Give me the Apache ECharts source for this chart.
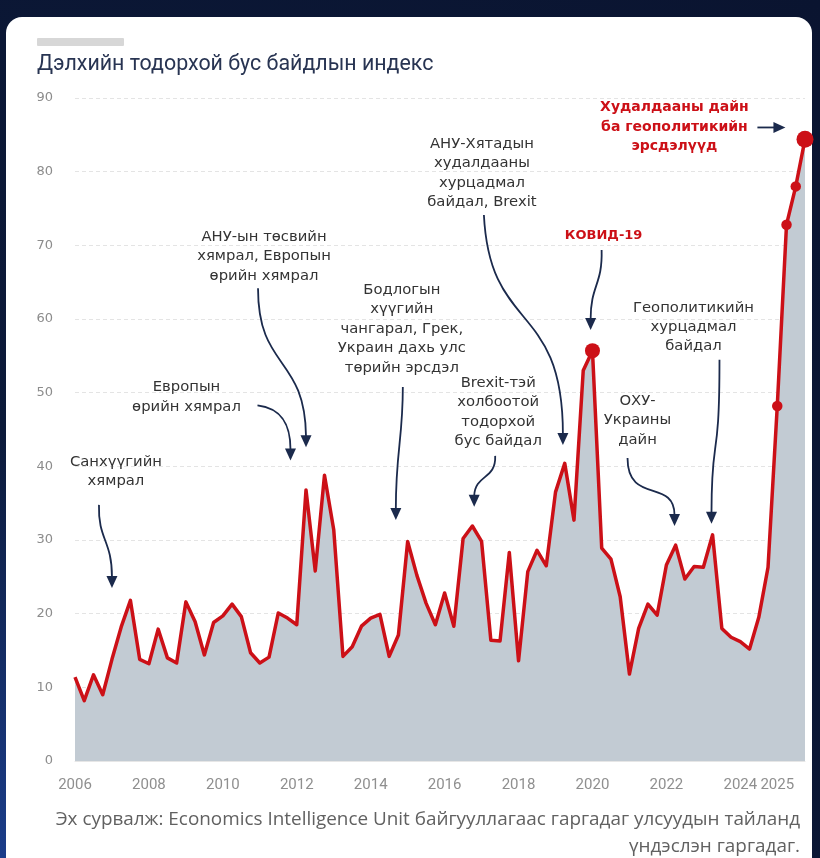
<!DOCTYPE html>
<html>
<head>
<meta charset="utf-8">
<script src="https://cdn.jsdelivr.net/npm/echarts@6/dist/echarts.min.js"></script>
<style>
  html, body { margin: 0; padding: 0; width: 820px; height: 858px; overflow: hidden;
    background: radial-gradient(ellipse at 0% 100%, #1b3d8a 0%, #0c1a3a 35%, #0a1430 100%); }
  #card { position: absolute; left: 6px; top: 17px; width: 806px; height: 860px; background: #ffffff; border-radius: 16px; }
  #chart { position: absolute; left: 0; top: 0; width: 820px; height: 858px; }
</style>
</head>
<body>
<div id="card"></div>
<div id="chart"></div>
<script>
// ---------------- data ----------------
const years = [2006, 2007, 2008, 2009, 2010, 2011, 2012, 2013, 2014, 2015,
               2016, 2017, 2018, 2019, 2020, 2021, 2022, 2023, 2024, 2025];
const quarters = ['Q1', 'Q2', 'Q3', 'Q4'];
// World Uncertainty Index, quarterly
const uncertaintyIndex = [
  11.4, 8.2, 11.7, 9.0,    // 2006
  13.8, 18.2, 21.8, 13.8,  // 2007
  13.2, 17.9, 14.0, 13.3,  // 2008
  21.6, 18.9, 14.4, 18.8,  // 2009
  19.7, 21.3, 19.6, 14.7,  // 2010
  13.3, 14.1, 20.1, 19.4,  // 2011
  18.5, 36.8, 25.8, 38.8,  // 2012
  31.4, 14.2, 15.5, 18.3,  // 2013
  19.4, 19.9, 14.2, 17.1,  // 2014
  29.8, 25.2, 21.4, 18.5,  // 2015
  22.8, 18.3, 30.2, 31.9,  // 2016
  29.8, 16.4, 16.3, 28.3,  // 2017
  13.6, 25.7, 28.6, 26.5,  // 2018
  36.5, 40.4, 32.7, 53.0,  // 2019
  55.7, 28.9, 27.4, 22.3,  // 2020
  11.8, 18.0, 21.3, 19.8,  // 2021
  26.6, 29.3, 24.7, 26.4,  // 2022
  26.3, 30.7, 18.0, 16.8,  // 2023
  16.2, 15.2, 19.5, 26.3,  // 2024
  48.2, 72.8, 78.0, 84.4   // 2025
];
const highlightedPeriods = ['2020 Q1', '2025 Q1', '2025 Q2', '2025 Q3', '2025 Q4'];
const yTicks = [0, 10, 20, 30, 40, 50, 60, 70, 80, 90];

const titleText = 'Дэлхийн тодорхой бус байдлын индекс';
const sourceText = 'Эх сурвалж: Economics Intelligence Unit байгууллагаас гаргадаг улсуудын тайланд\nүндэслэн гаргадаг.';

// annotations: event text and the point (year position, index value) the arrow points at
const annotations = [
  { text: 'Санхүүгийн\nхямрал', at: [2007.0, 23.5] },
  { text: 'Европын\nөрийн хямрал', at: [2011.83, 40.8] },
  { text: 'АНУ-ын төсвийн\nхямрал, Европын\nөрийн хямрал', at: [2012.25, 42.6] },
  { text: 'Бодлогын\nхүүгийн\nчангарал, Грек,\nУкраин дахь улс\nтөрийн эрсдэл', at: [2014.68, 32.7] },
  { text: 'Brexit-тэй\nхолбоотой\nтодорхой\nбус байдал', at: [2016.8, 34.5] },
  { text: 'АНУ-Хятадын\nхудалдааны\nхурцадмал\nбайдал, Brexit', at: [2019.2, 42.9] },
  { text: 'КОВИД-19', at: [2019.95, 58.5], red: true, small: true },
  { text: 'Геополитикийн\nхурцадмал\nбайдал', at: [2023.22, 32.2] },
  { text: 'ОХУ-\nУкраины\nдайн', at: [2022.22, 31.9] },
  { text: 'Худалдааны дайн\nба геополитикийн\nэрсдэлүүд', at: [2025.22, 86.0], red: true, right: true }
];
// layout of each annotation relative to its arrow tip (pixels): text centre of first line, arrow bezier
const annotationLayout = [
  { t: [4, -126],  b: [[-13, -83], [-14, -48], [0, -48], [0, -11]] },
  { t: [-104, -73], b: [[-33, -55], [-8, -52], [0, -35], [0, -11]] },
  { t: [-42, -210], b: [[-48, -159], [-48, -77], [-1, -92], [0, -11]] },
  { t: [6, -230],  b: [[7, -133], [7, -80], [0, -70], [0, -11]] },
  { t: [24, -124], b: [[21, -51], [22, -27], [1, -33], [0, -11]] },
  { t: [-81, -301], b: [[-79, -230], [-73, -110], [0, -145], [0, -11]] },
  { t: [13, -94],  b: [[11, -80], [12, -45], [0, -45], [0, -11]] },
  { t: [-18, -216], b: [[8, -164], [8, -54], [0, -94], [0, -11]] },
  { t: [-37, -125], b: [[-47, -68], [-47, -21], [0, -48], [0, -11]] },
  { t: [-111, -20], b: [[-28, 0], [-22, 0], [-17, 0], [-11, 0]] }
];

// ---------------- build ----------------
const seriesData = [];
const periodNames = [];
years.forEach((y, yi) => quarters.forEach((q, qi) => {
  seriesData.push([y + qi / 4, uncertaintyIndex[yi * 4 + qi]]);
  periodNames.push(y + ' ' + q);
}));
const dotData = highlightedPeriods.map(p => {
  const k = periodNames.indexOf(p);
  return { value: seriesData[k], symbolSize: (p === '2025 Q4' ? 17 : p === '2020 Q1' ? 15 : 10.5) };
});

const RED = '#cc1017';
const NAVY = '#1b2a4c';
const chart = echarts.init(document.getElementById('chart'), null, { renderer: 'canvas' });

chart.setOption({
  backgroundColor: 'transparent',
  animation: false,
  title: {
    text: titleText, left: 37, top: 54, padding: 0,
    textStyle: { fontFamily: 'Roboto', fontSize: 21.4, fontWeight: 'normal', color: '#283452' }
  },
  grid: { left: 75, right: 15, top: 98, bottom: 97, containLabel: false, outerBoundsMode: 'none' },
  xAxis: {
    type: 'value', min: years[0], max: years[years.length - 1] + 0.75, interval: 1,
    axisLine: { show: true, lineStyle: { color: '#e6e6e6' } },
    axisTick: { show: false },
    splitLine: { show: false },
    axisLabel: {
      margin: 17, color: '#8f8f8f', fontFamily: 'Roboto', fontSize: 15,
      showMaxLabel: false,
      formatter: v => (Number.isInteger(v) && (v % 2 === 0 || v === years[years.length - 1])) ? String(v) : ''
    }
  },
  yAxis: {
    type: 'value', min: yTicks[0], max: yTicks[yTicks.length - 1], interval: 10,
    axisLine: { show: false }, axisTick: { show: false },
    splitLine: { lineStyle: { color: '#e4e4e4', type: [4, 3] } },
    axisLabel: { margin: 22, color: '#8c8c8c', fontFamily: 'DejaVu Sans', fontSize: 13 }
  },
  series: [
    {
      type: 'line', data: seriesData, showSymbol: false, symbol: 'none',
      lineStyle: { color: RED, width: 3.5, join: 'round' },
      areaStyle: { color: '#c2cbd3', opacity: 1 },
      z: 2
    },
    {
      type: 'scatter', data: dotData, symbol: 'circle',
      itemStyle: { color: RED, opacity: 1 },
      z: 3
    }
  ]
});

function buildGraphics() {
  const g = [];
  g.push({ type: 'rect', shape: { x: 37, y: 38, width: 87, height: 8, r: 1 }, style: { fill: '#d7d7d7' } });
  g.push({
    type: 'text', style: {
      text: sourceText, x: 800, y: 806, textAlign: 'right', textVerticalAlign: 'top',
      font: '18.9px "Open Sans"', fill: '#616161', lineHeight: 27
    }
  });
  annotations.forEach((a, idx) => {
    const L = annotationLayout[idx];
    const tip = chart.convertToPixel({ gridIndex: 0 }, a.at);
    const tx = tip[0], ty = tip[1];
    const lh = 19.4;
    const font = a.red ? (a.small ? 'bold 13px' : 'bold 14px') : '14.8px';
    g.push({
      type: 'text', z: 10, style: {
        text: a.text, x: tx + L.t[0], y: ty + L.t[1] - lh / 2,
        textAlign: 'center', textVerticalAlign: 'top', lineHeight: lh,
        font: font + ' "DejaVu Sans"',
        fill: a.red ? RED : '#333333'
      }
    });
    const b = L.b;
    g.push({
      type: 'bezierCurve', z: 10,
      shape: {
        x1: tx + b[0][0], y1: ty + b[0][1],
        cpx1: tx + b[1][0], cpy1: ty + b[1][1],
        cpx2: tx + b[2][0], cpy2: ty + b[2][1],
        x2: tx + b[3][0], y2: ty + b[3][1]
      },
      style: { stroke: NAVY, lineWidth: 1.8, fill: null }
    });
    const pts = a.right
      ? [[tx, ty], [tx - 12, ty - 5.5], [tx - 12, ty + 5.5]]
      : [[tx, ty], [tx - 5.5, ty - 12], [tx + 5.5, ty - 12]];
    g.push({ type: 'polygon', z: 10, shape: { points: pts }, style: { fill: NAVY } });
  });
  return g;
}
chart.setOption({ graphic: buildGraphics() });
</script>
</body>
</html>
